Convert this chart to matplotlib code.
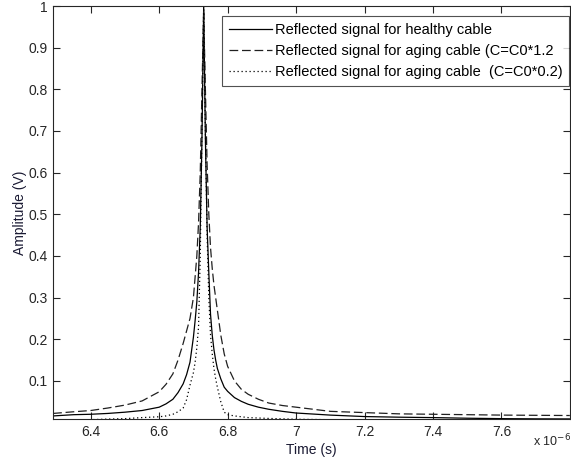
import matplotlib
matplotlib.use("Agg")
import matplotlib.pyplot as plt

plt.rcParams['font.family'] = ['Liberation Sans', 'DejaVu Sans']

# time axis in microseconds
time_us = [6.29, 6.35, 6.40, 6.45, 6.50, 6.55, 6.60, 6.62, 6.64, 6.655, 6.67,
           6.68, 6.69, 6.70, 6.705, 6.71, 6.715, 6.72, 6.725, 6.73, 6.735,
           6.74, 6.745, 6.75, 6.755, 6.76, 6.765, 6.77, 6.78, 6.79, 6.80,
           6.82, 6.84, 6.86, 6.89, 6.92, 6.96, 7.00, 7.10, 7.20, 7.30,
           7.40, 7.50, 7.60, 7.70, 7.80]

healthy = [0.016, 0.019, 0.020, 0.022, 0.025, 0.029, 0.037, 0.045, 0.056, 0.072, 0.093,
           0.115, 0.145, 0.205, 0.245, 0.29, 0.36, 0.47, 0.68, 1.0, 0.68,
           0.47, 0.36, 0.26, 0.21, 0.175, 0.15, 0.13, 0.105, 0.085, 0.075,
           0.060, 0.051, 0.044, 0.037, 0.032, 0.027, 0.023, 0.018, 0.0145, 0.013,
           0.012, 0.0105, 0.0095, 0.009, 0.0088]

aging_12 = [0.022, 0.026, 0.029, 0.035, 0.042, 0.052, 0.074, 0.092, 0.117, 0.15, 0.19,
            0.22, 0.25, 0.30, 0.35, 0.40, 0.48, 0.60, 0.80, 0.99, 0.80,
            0.62, 0.50, 0.42, 0.37, 0.33, 0.30, 0.27, 0.21, 0.165, 0.135,
            0.10, 0.08, 0.068, 0.056, 0.047, 0.041, 0.037, 0.027, 0.024, 0.021,
            0.020, 0.019, 0.018, 0.0175, 0.017]

aging_02 = [0.005, 0.006, 0.007, 0.0085, 0.0095, 0.012, 0.014, 0.016, 0.020, 0.026, 0.035,
            0.055, 0.09, 0.12, 0.145, 0.18, 0.23, 0.40, 0.70, 1.0, 0.70,
            0.45, 0.30, 0.21, 0.165, 0.13, 0.105, 0.085, 0.05, 0.025, 0.019,
            0.016, 0.014, 0.012, 0.011, 0.010, 0.009, 0.008, 0.007, 0.0065, 0.006,
            0.0058, 0.0056, 0.0055, 0.0054, 0.0053]

labels = ['Reflected signal for healthy cable',
          'Reflected signal for aging cable (C=C0*1.2',
          'Reflected signal for aging cable  (C=C0*0.2)']

xticks = [6.4, 6.6, 6.8, 7.0, 7.2, 7.4, 7.6]
yticks = [0.1, 0.2, 0.3, 0.4, 0.5, 0.6, 0.7, 0.8, 0.9, 1.0]

fig = plt.figure(figsize=(5.71, 4.63), dpi=100)
ax = fig.add_axes([0.093, 0.095, 0.905, 0.892])

ax.plot(time_us, healthy, color='black', linewidth=0.9, label=labels[0])
ax.plot(time_us, aging_12, color='#202020', linewidth=0.9, dashes=(7, 3), label=labels[1])
ax.plot(time_us, aging_02, color='black', linewidth=0.9, dashes=(1, 2.2), label=labels[2])

ax.set_xlim(6.29, 7.80)
ax.set_ylim(0.0086, 1.0)
ax.set_xticks(xticks)
ax.set_xticklabels(['%g' % v for v in xticks])
ax.set_yticks(yticks)
ax.set_yticklabels(['%g' % v for v in yticks])

ax.tick_params(direction='in', top=True, right=True, length=5, width=0.8,
               labelsize=10, colors='#262626', pad=4)
for sp in ax.spines.values():
    sp.set_linewidth(0.8)
    sp.set_color('#262626')

ax.set_xlabel('Time (s)', fontsize=10, color='#1a1a33', labelpad=3)
ax.set_ylabel('Amplitude (V)', fontsize=10, color='#1a1a33', labelpad=1)
fig.text(0.933, 0.03, r'x 10$^{-6}$', fontsize=9, color='#262626', ha='left', va='bottom')

leg = ax.legend(loc='upper right', bbox_to_anchor=(0.998, 0.975), fontsize=10.5,
                frameon=True, fancybox=False, edgecolor='#262626', handlelength=3.0,
                handletextpad=0.15, borderaxespad=0.0, labelspacing=0.5, borderpad=0.45)
leg.get_frame().set_linewidth(0.8)

fig.savefig('out.png', dpi=100)
